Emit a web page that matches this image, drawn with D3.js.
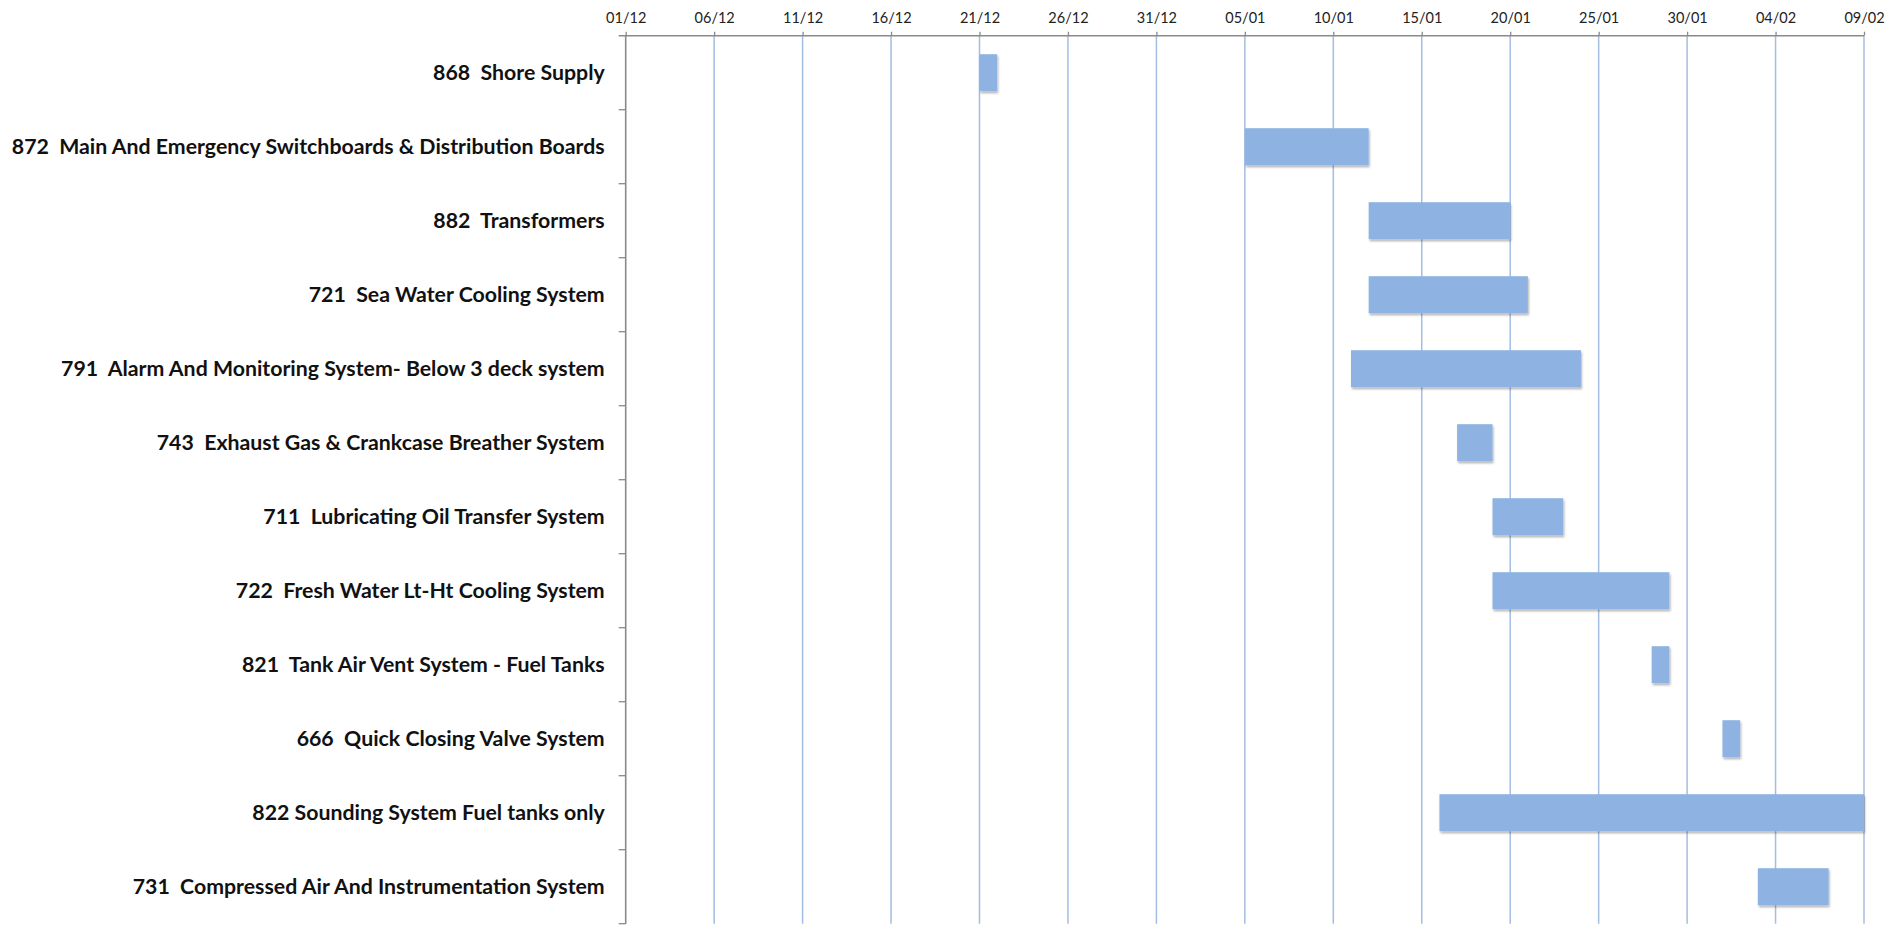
<html>
  <head>
    <script src="https://cdn.jsdelivr.net/npm/d3@7/dist/d3.min.js"></script>
    <style>
      * {
        margin: 0;
        padding: 0;
      }
      body {
        background-color: white;
        overflow: hidden;
      }
      .taskLabel {
        font-family: Lato, "Open Sans", sans-serif;
        font-weight: 700;
        font-size: 21.3px;
        fill: #111;
        white-space: pre;
      }
      .dateLabel {
        font-family: Lato, "Open Sans", sans-serif;
        font-size: 14.5px;
        fill: #222;
      }
    </style>
  </head>
  <body>
    <div id="chart"></div>
    <script>
      // tasks, top to bottom
      const tasks = [
        "868  Shore Supply",
        "872  Main And Emergency Switchboards & Distribution Boards",
        "882  Transformers",
        "721  Sea Water Cooling System",
        "791  Alarm And Monitoring System- Below 3 deck system",
        "743  Exhaust Gas & Crankcase Breather System",
        "711  Lubricating Oil Transfer System",
        "722  Fresh Water Lt-Ht Cooling System",
        "821  Tank Air Vent System - Fuel Tanks",
        "666  Quick Closing Valve System",
        "822 Sounding System Fuel tanks only",
        "731  Compressed Air And Instrumentation System",
      ];
      const startDates = [
        "2013-12-21", "2014-01-05", "2014-01-12", "2014-01-12",
        "2014-01-11", "2014-01-17", "2014-01-19", "2014-01-19",
        "2014-01-28", "2014-02-01", "2014-01-16", "2014-02-03",
      ];
      const endDates = [
        "2013-12-22", "2014-01-12", "2014-01-20", "2014-01-21",
        "2014-01-24", "2014-01-19", "2014-01-23", "2014-01-29",
        "2014-01-29", "2014-02-02", "2014-02-09", "2014-02-07",
      ];
      const tickDates = [
        "2013-12-01", "2013-12-06", "2013-12-11", "2013-12-16",
        "2013-12-21", "2013-12-26", "2013-12-31", "2014-01-05",
        "2014-01-10", "2014-01-15", "2014-01-20", "2014-01-25",
        "2014-01-30", "2014-02-04", "2014-02-09",
      ];

      const parse = d3.utcParse("%Y-%m-%d");
      const dataset = tasks.map((t, i) => ({
        task: t,
        start: parse(startDates[i]),
        end: parse(endDates[i]),
      }));
      const ticks = tickDates.map(parse);

      const w = 1898;
      const h = 925;
      const plotLeft = 625.7;
      const plotRight = 1864;
      const plotTop = 35.7;
      const plotBottom = 923.7;

      const xScale = d3
        .scaleUtc()
        .domain([ticks[0], ticks[ticks.length - 1]])
        .range([plotLeft, plotRight]);

      const yScale = d3
        .scaleBand()
        .domain(tasks)
        .range([plotTop, plotBottom])
        .paddingInner(0.5)
        .paddingOuter(0.25);

      const svg = d3
        .select("#chart")
        .append("svg")
        .attr("width", w)
        .attr("height", h);

      const defs = svg.append("defs");
      defs
        .append("filter")
        .attr("id", "shadow")
        .attr("x", "-10%")
        .attr("y", "-20%")
        .attr("width", "130%")
        .attr("height", "160%")
        .append("feDropShadow")
        .attr("dx", 1)
        .attr("dy", 2)
        .attr("stdDeviation", 1.2)
        .attr("flood-color", "#000")
        .attr("flood-opacity", 0.3);

      // vertical gridlines
      svg
        .append("g")
        .selectAll("line")
        .data(ticks.slice(1))
        .enter()
        .append("line")
        .attr("x1", (d) => xScale(d))
        .attr("x2", (d) => xScale(d))
        .attr("y1", plotTop)
        .attr("y2", plotBottom)
        .attr("stroke", "#a4bde2")
        .attr("stroke-width", 1.5);

      // bars
      svg
        .append("g")
        .selectAll("rect")
        .data(dataset)
        .enter()
        .append("rect")
        .attr("x", (d) => xScale(d.start))
        .attr("y", (d) => yScale(d.task))
        .attr("width", (d) => xScale(d.end) - xScale(d.start))
        .attr("height", yScale.bandwidth())
        .attr("fill", "#8eb3e2")
        .attr("filter", "url(#shadow)");

      // top axis
      const xAxis = d3
        .axisTop(xScale)
        .tickValues(ticks)
        .tickFormat(d3.utcFormat("%d/%m"))
        .tickSize(4)
        .tickSizeOuter(0)
        .tickPadding(9);

      const gx = svg
        .append("g")
        .attr("transform", "translate(0," + plotTop + ")")
        .call(xAxis);
      gx.select(".domain").remove();
      gx.append("line")
        .attr("x1", plotLeft - 7)
        .attr("x2", plotRight)
        .attr("stroke", "#8a8a8a")
        .attr("stroke-width", 1.6);
      gx.selectAll(".tick line")
        .attr("stroke", "#8a8a8a")
        .attr("stroke-width", 1.3);
      gx.selectAll(".tick text")
        .attr("class", "dateLabel")
        .attr("fill", null);
      gx.attr("font-family", null).attr("font-size", null);

      // left axis with ticks on band boundaries
      const gy = svg.append("g");
      gy.append("line")
        .attr("x1", plotLeft)
        .attr("x2", plotLeft)
        .attr("y1", plotTop)
        .attr("y2", plotBottom)
        .attr("stroke", "#8a8a8a")
        .attr("stroke-width", 1.6);
      gy.selectAll(".bound")
        .data(tasks)
        .enter()
        .append("line")
        .attr("class", "bound")
        .attr("x1", plotLeft - 7)
        .attr("x2", plotLeft)
        .attr("y1", (d) => yScale(d) + yScale.step() * 0.75)
        .attr("y2", (d) => yScale(d) + yScale.step() * 0.75)
        .attr("stroke", "#8a8a8a")
        .attr("stroke-width", 1.3);

      gy.selectAll(".taskLabel")
        .data(tasks)
        .enter()
        .append("text")
        .attr("class", "taskLabel")
        .attr("x", plotLeft - 21)
        .attr("y", (d) => yScale(d) + yScale.bandwidth() / 2)
        .attr("dy", "0.35em")
        .attr("text-anchor", "end")
        .text((d) => d);
    </script>
  </body>
</html>
